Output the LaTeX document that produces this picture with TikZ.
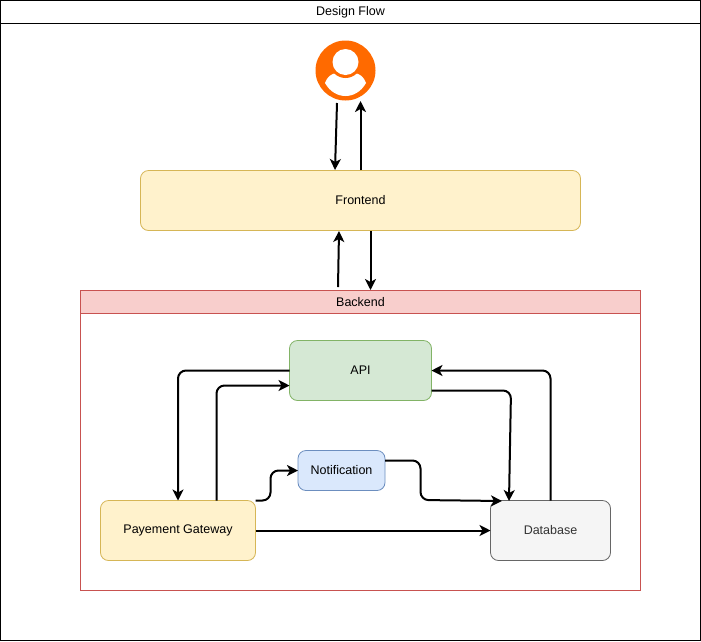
\documentclass[tikz,border=0pt]{standalone}
\usepackage{fontspec}
\setmainfont{Liberation Sans}
\usetikzlibrary{arrows.meta}
\definecolor{yfill}{HTML}{FFF2CC}\definecolor{yline}{HTML}{D6B656}
\definecolor{gfill}{HTML}{D5E8D4}\definecolor{gline}{HTML}{82B366}
\definecolor{bfill}{HTML}{DAE8FC}\definecolor{bline}{HTML}{6C8EBF}
\definecolor{rfill}{HTML}{F8CECC}\definecolor{rline}{HTML}{C85250}
\definecolor{wfill}{HTML}{F5F5F5}\definecolor{wline}{HTML}{666666}
\definecolor{userc}{HTML}{FF6A00}
\tikzset{
  boxbase/.style={draw,rounded corners=8pt,line width=.8pt,font=\fontsize{12.5}{14}\selectfont,inner sep=0pt,outer sep=0pt,anchor=north west},
  ybox/.style={boxbase,fill=yfill,draw=yline},
  gbox/.style={boxbase,fill=gfill,draw=gline},
  bbox/.style={boxbase,fill=bfill,draw=bline},
  wbox/.style={boxbase,fill=wfill,draw=wline,text=black!80},
  lane/.style={draw,line width=.8pt,minimum height=23pt,inner sep=0pt,outer sep=0pt,anchor=north west,font=\fontsize{12.5}{14}\selectfont},
  flow/.style={line width=2pt,-{Stealth[length=11pt,width=11pt,inset=3pt]},rounded corners=8pt},
}
\begin{document}
\begin{tikzpicture}[x=1pt,y=-1pt]
\useasboundingbox (0,0) rectangle (701,641);
% outer frame
\node[lane,fill=white,minimum width=700pt,minimum height=640pt] (frame) at (.5,.5) {};
\node[lane,minimum width=700pt] (title) at (.5,.5) {Design Flow};
% backend
\node[lane,draw=rline,fill=white,minimum width=560pt,minimum height=300pt] (backend) at (80.5,290.5) {};
\node[lane,draw=rline,fill=rfill,minimum width=560pt] (backendt) at (80.5,290.5) {Backend};
% user
\fill[userc] (345.5,70.5) circle (30);
\fill[white] (325,83) .. controls (327,77) and (331,74) .. (336,73) -- (355,73)
  .. controls (360,74) and (364,77) .. (366,83)
  .. controls (361,92) and (353,96) .. (345.5,96)
  .. controls (338,96) and (330,92) .. (325,83) -- cycle;
\fill[userc] (345.5,62) circle (16);
\fill[white] (345.5,62) circle (13);
\coordinate (user) at (345.5,70.5);
% boxes
\node[ybox,minimum width=440pt,minimum height=60pt] (fe) at (140.5,170.5) {Frontend};
\node[gbox,minimum width=142pt,minimum height=60pt] (api) at (289.5,340.5) {API};
\node[bbox,minimum width=87pt,minimum height=40pt] (note) at (298,450.5) {Notification};
\node[ybox,minimum width=155pt,minimum height=60pt] (pg) at (100.5,500.5) {Payement Gateway};
\node[wbox,minimum width=120pt,minimum height=60pt] (db) at (490.5,500.5) {Database};
% ports
\coordinate (u1) at (337,103);
\coordinate (u2) at (360.5,101);
\coordinate (f1) at (335,170);
\coordinate (f2) at (360.5,170);
\coordinate (f3) at (339,231);
\coordinate (f4) at (370.5,231);
\coordinate (b1) at (338,287);
\coordinate (b2) at (370.5,290);
\coordinate (a2) at (289.5,385.5);
\coordinate (a3) at (431.5,390.5);
\coordinate (p2) at (216.5,500.5);
\coordinate (p3) at (255.5,500.5);
\coordinate (n2) at (385,460.5);
\coordinate (d1) at (502,501);
\coordinate (d2) at (509,501);
\coordinate (d3) at (550.5,500.5);
% connectors
\draw[flow] (u1) -- (f1);
\draw[flow] (f2) -- (u2);
\draw[flow] (b1) -- (f3);
\draw[flow] (f4) -- (b2);
\draw[flow] (api.west) -| (pg.north);
\draw[flow] (p2) |- (a2);
\draw[flow] (a3) -- (511,390.5) -- (d2);
\draw[flow] (d3) |- (api.east);
\draw[flow] (n2) -- (420.5,460.5) -- (420.5,500) -- (d1);
\draw[flow] (p3) -- (270.5,500.5) -- (270.5,470.5) -- (note.west);
\draw[flow] (pg.east) -- (db.west);
\end{tikzpicture}
\end{document}
